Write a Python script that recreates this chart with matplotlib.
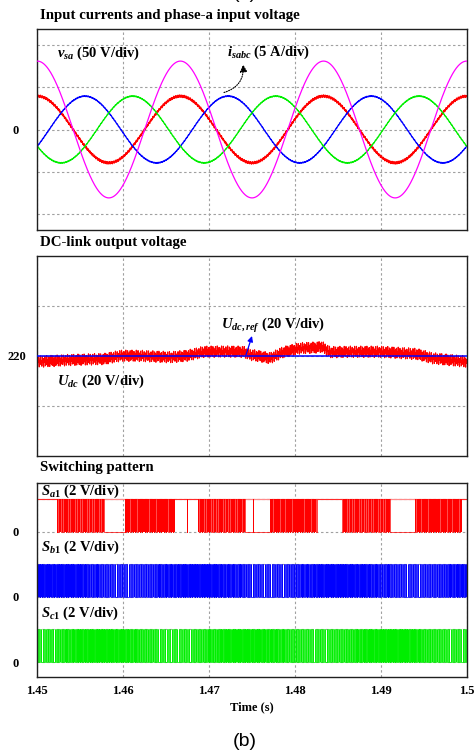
import numpy as np
import matplotlib
matplotlib.use("Agg")
import matplotlib.pyplot as plt
from matplotlib.ticker import FixedLocator

plt.rcParams['font.family'] = ['Liberation Serif', 'DejaVu Serif']
plt.rcParams['font.weight'] = 'bold'
plt.rcParams['mathtext.fontset'] = 'custom'
plt.rcParams['mathtext.rm'] = 'Liberation Serif:bold'
plt.rcParams['mathtext.it'] = 'Liberation Serif:italic:bold'
plt.rcParams['mathtext.bf'] = 'Liberation Serif:bold'

# ---------------- data ----------------
t_start, t_end = 1.45, 1.50
time_ticks = [1.45, 1.46, 1.47, 1.48, 1.49, 1.50]
time_tick_labels = ['1.45', '1.46', '1.47', '1.48', '1.49', '1.5']

grid_freq_hz = 60.0
phase_shift_deg = [0.0, -120.0, 120.0]          # phases a, b, c
phase_colors = ['#ff0000', '#0000ff', '#00ee00']
current_peak_a = 3.95
current_ripple_a = [0.16, 0.06, 0.06]
voltage_peak_v = 81.0
volts_per_div_vsa = 50.0
amps_per_div = 5.0

udc_ref_v = 220.0
udc_time_s = [1.4500, 1.4538, 1.4578, 1.4597, 1.4616, 1.4655, 1.4674, 1.4694,
              1.4717, 1.4740, 1.4748, 1.4759, 1.4771, 1.4786, 1.4806, 1.4826,
              1.4831, 1.4841, 1.4864, 1.4899, 1.4922, 1.4942, 1.4960, 1.4980,
              1.5000]
udc_value_v = [217.7, 218.4, 218.8, 220.1, 220.1, 219.5, 220.1, 221.7,
               221.8, 221.7, 220.5, 219.9, 219.1, 221.5, 223.1, 223.4,
               223.8, 221.5, 221.7, 221.7, 221.2, 220.8, 219.1, 218.4,
               217.7]
udc_ripple_v = 2.3

carrier_freq_hz = 3600.0
# (start, end, clamped level) of the discontinuous PWM for S_a1
sa1_clamps = [(1.44500, 1.45225, 1), (1.45772, 1.46021, 0),
              (1.46604, 1.46876, 1), (1.47419, 1.47710, 0),
              (1.48254, 1.48545, 1), (1.49108, 1.49399, 0),
              (1.49942, 1.50100, 1)]
sa1_isolated_pulses = [1.46743, 1.47507]
switch_duty_mean = [0.78, 0.70, 0.68]
switch_duty_swing = [0.12, 0.20, 0.22]
switch_offsets_div = [4.0, 2.0, 0.0]             # S_a1, S_b1, S_c1

# ---------------- figure layout ----------------
W, H = 475, 753
fig = plt.figure(figsize=(W / 100, H / 100), dpi=100)


def box(left, top, right, bottom):
    return [left / W, 1 - bottom / H, (right - left) / W, (bottom - top) / H]


def fx(px):
    return px / W


def fy(py):
    return 1 - py / H


ax1 = fig.add_axes(box(37.3, 29, 466.7, 230))
ax2 = fig.add_axes(box(37.3, 256, 466.7, 456))
ax3 = fig.add_axes(box(37.3, 483, 466.7, 677))

grid_kw = dict(color='#a0a0a0', linestyle=(0, (2.2, 2.2)), linewidth=0.8)


def style_axes(ax, grid_y, label_y, label_txt, pad):
    ax.set_xlim(t_start, t_end)
    ax.xaxis.set_major_locator(FixedLocator(time_ticks))
    ax.xaxis.set_minor_locator(FixedLocator(time_ticks))
    ax.yaxis.set_major_locator(FixedLocator(label_y))
    ax.yaxis.set_minor_locator(FixedLocator(grid_y))
    ax.xaxis.remove_overlapping_locs = False
    ax.yaxis.remove_overlapping_locs = False
    ax.set_yticklabels(label_txt)
    ax.grid(which='minor', **grid_kw)
    ax.grid(which='major', visible=False)
    ax.tick_params(which='both', length=0)
    ax.tick_params(axis='y', pad=pad, labelsize=9)
    ax.set_axisbelow(True)
    for s in ax.spines.values():
        s.set_linewidth(1.0)
        s.set_color('#202020')


# ---------------- panel 1: currents and voltage ----------------
t = np.linspace(t_start, t_end, 6000)
theta = 2 * np.pi * grid_freq_hz * t
ripple_shape = 0.6 * np.sin(2 * np.pi * 9870 * t) + 0.4 * np.sin(2 * np.pi * 4130 * t + 1.3)

v_sa = voltage_peak_v * np.cos(theta)
ax1.plot(t, v_sa / volts_per_div_vsa, color='#ff00ff', lw=0.9, zorder=3)
for shift, col, rip in zip(phase_shift_deg, phase_colors, current_ripple_a):
    i_x = current_peak_a * np.cos(theta + np.deg2rad(shift)) + rip * ripple_shape
    ax1.plot(t, i_x / amps_per_div, color=col, lw=0.9, zorder=2)
ax1.set_ylim(-2.38, 2.38)
style_axes(ax1, [-2, -1, 0, 1, 2], [0], ['0'], 13)
ax1.set_xticklabels([])

fig.text(fx(40), fy(16), 'Input currents and phase-a input voltage',
         fontsize=10.7, ha='left', va='center')
fig.text(fx(57), fy(53), r'$v_{sa}$ (50 V/div)', fontsize=10.5, ha='left', va='center')
fig.text(fx(227), fy(52), r'$i_{sabc}$ (5 A/div)', fontsize=10.5, ha='left', va='center')
ax1.annotate('', xy=(1.47396, 1.54), xytext=(1.47174, 0.876),
             arrowprops=dict(arrowstyle='-|>', linestyle=(0, (1, 1.2)), lw=0.8,
                             color='black', connectionstyle='arc3,rad=0.4',
                             mutation_scale=11, shrinkA=0, shrinkB=0))

# ---------------- panel 2: DC-link voltage ----------------
t2 = np.linspace(t_start, t_end, 30000)
udc_slow = np.interp(t2, udc_time_s, udc_value_v)
udc_rip = udc_ripple_v * (0.55 * np.sin(2 * np.pi * 9870 * t2)
                          + 0.45 * np.sin(2 * np.pi * 4130 * t2 + 1.3))
ax2.plot(t2, udc_slow + udc_rip, color='#ff0000', lw=0.8, zorder=2)
ax2.axhline(udc_ref_v, color='#0000ff', lw=1.1, zorder=3)
ax2.set_ylim(180, 260)
style_axes(ax2, [200, 220, 240], [220], ['220'], 8)
ax2.set_xticklabels([])

fig.text(fx(40), fy(243), 'DC-link output voltage', fontsize=10.7, ha='left', va='center')
fig.text(fx(221), fy(325), r'$U_{dc,ref}$ (20 V/div)', fontsize=10.5, ha='left', va='center')
fig.text(fx(57), fy(381), r'$U_{dc}$ (20 V/div)', fontsize=10.5, ha='left', va='center')
ax2.annotate('', xy=(1.4750, 228.0), xytext=(1.4743, 220.4),
             arrowprops=dict(arrowstyle='-|>', lw=0.9, color='#0000ff',
                             mutation_scale=8, shrinkA=0, shrinkB=0))

# ---------------- panel 3: switching pattern ----------------
ts = np.linspace(t_start, t_end, 200001)
carrier = np.abs(((ts * carrier_freq_hz) % 1.0) * 2 - 1)   # triangle 0..1
theta_s = 2 * np.pi * grid_freq_hz * ts


def step_xy(tt, ss):
    ch = np.flatnonzero(np.diff(ss)) + 1
    xs = np.concatenate([[tt[0]], np.repeat(tt[ch], 2), [tt[-1]]])
    ys = np.concatenate([[ss[0]], np.column_stack([ss[ch - 1], ss[ch]]).ravel(), [ss[-1]]])
    return xs, ys


switch_colors = ['#ff0000', '#0000ff', '#00ee00']
ax3.axhline(switch_offsets_div[0] + 1, color='#ff8a8a', lw=0.9, zorder=1.5)
for k, (shift, col, off) in enumerate(zip(phase_shift_deg, switch_colors, switch_offsets_div)):
    duty = switch_duty_mean[k] + switch_duty_swing[k] * np.cos(theta_s + np.deg2rad(shift) + 1.3)
    state = (duty > carrier).astype(float)
    dense = state.copy()
    if k == 0:
        for a, b, lev in sa1_clamps:
            span = (ts >= a) & (ts < b)
            state[span] = lev
            dense[span] = 0.0
        for tp in sa1_isolated_pulses:
            m = (ts >= tp) & (ts < tp + 0.00004)
            state[m] = 1 - state[m]
    fx_, fy_ = step_xy(ts, dense)
    ax3.fill_between(fx_, off, fy_ + off, color=col, lw=0, zorder=2)
    xs, ys = step_xy(ts, state)
    ax3.plot(xs, ys + off, color=col, lw=0.5, zorder=2.1)
ax3.set_ylim(-0.46, 5.49)
style_axes(ax3, [0, 1, 2, 3, 4, 5], [0, 2, 4], ['0', '0', '0'], 13)
ax3.set_xticklabels(time_tick_labels)
ax3.tick_params(axis='x', pad=6, labelsize=9)
ax3.set_xlabel('Time (s)', fontsize=9, fontweight='bold', labelpad=3)

fig.text(fx(40), fy(468), 'Switching pattern', fontsize=10.7, ha='left', va='center')
fig.text(fx(41), fy(491), r'$S_{a\mathrm{1}}$ (2 V/div)', fontsize=10.5, ha='left', va='center')
fig.text(fx(41), fy(547), r'$S_{b\mathrm{1}}$ (2 V/div)', fontsize=10.5, ha='left', va='center')
fig.text(fx(41), fy(613), r'$S_{c\mathrm{1}}$ (2 V/div)', fontsize=10.5, ha='left', va='center')

fig.text(fx(245), fy(742), '(b)', fontsize=14, family='Liberation Sans',
         fontweight='normal', ha='center', va='center')
fig.text(fx(245), fy(2), '(a)', fontsize=14, family='Liberation Sans',
         fontweight='normal', ha='center', va='bottom')

fig.savefig('out.png', dpi=100)
